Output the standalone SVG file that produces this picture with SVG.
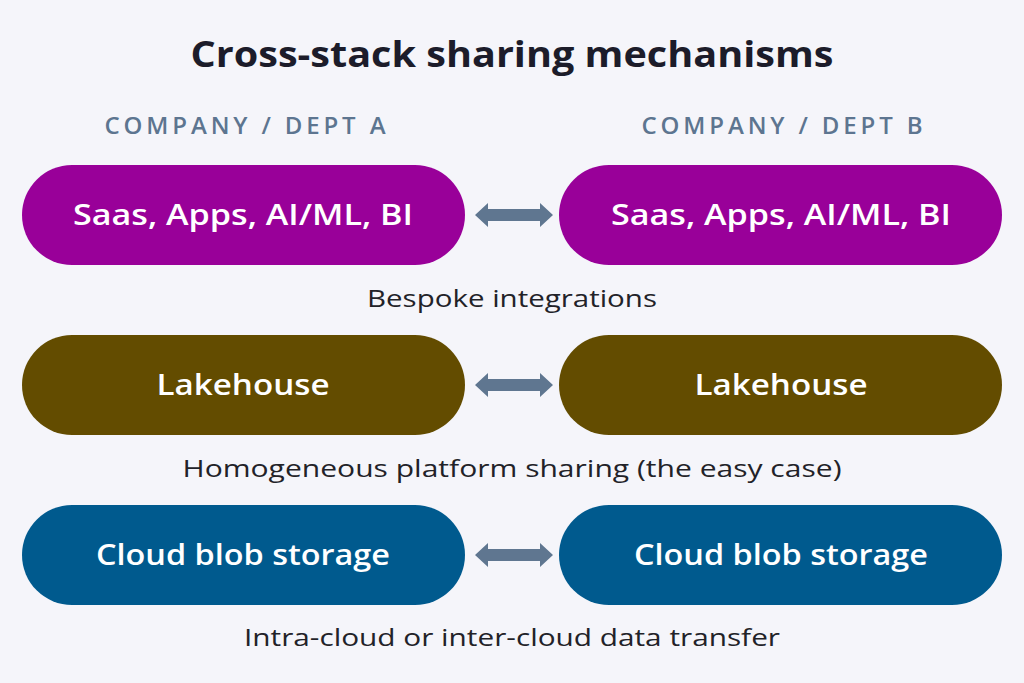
<svg xmlns="http://www.w3.org/2000/svg" width="1024" height="683" viewBox="0 0 1024 683">
<style>
.title{font-family:"Open Sans","Noto Sans",sans-serif;font-weight:700;font-size:35px;fill:#1c1c2a}
.hdr{font-family:"Open Sans","Noto Sans",sans-serif;font-weight:600;font-size:24px;fill:#5d7590}
.lbl{font-family:"Open Sans","Noto Sans",sans-serif;font-weight:600;font-size:29px;fill:#ffffff}
.cap{font-family:"Open Sans","Noto Sans",sans-serif;font-size:24px;fill:#222228}
.purple{fill:#990099}.olive{fill:#634c00}.blue{fill:#005a8e}
.arr{fill:#5f7690}
</style>
<rect width="1024" height="683" fill="#f5f5fa"/>
<text class="title" x="512" y="67" text-anchor="middle" textLength="643" lengthAdjust="spacingAndGlyphs">Cross-stack sharing mechanisms</text>
<text class="hdr" x="245" y="134" text-anchor="middle" textLength="281" lengthAdjust="spacing">COMPANY / DEPT A</text>
<text class="hdr" x="782" y="134" text-anchor="middle" textLength="281" lengthAdjust="spacing">COMPANY / DEPT B</text>
<g id="a1"><rect class="purple" x="22" y="165" width="443" height="100" rx="50"/><text class="lbl" x="243" y="225" text-anchor="middle" textLength="340" lengthAdjust="spacingAndGlyphs">Saas, Apps, AI/ML, BI</text></g>
<g id="b1"><rect class="purple" x="559" y="165" width="443" height="100" rx="50"/><text class="lbl" x="781" y="225" text-anchor="middle" textLength="340" lengthAdjust="spacingAndGlyphs">Saas, Apps, AI/ML, BI</text></g>
<g id="a2"><rect class="olive" x="22" y="335" width="443" height="100" rx="50"/><text class="lbl" x="243" y="395" text-anchor="middle" textLength="173" lengthAdjust="spacingAndGlyphs">Lakehouse</text></g>
<g id="b2"><rect class="olive" x="559" y="335" width="443" height="100" rx="50"/><text class="lbl" x="781" y="395" text-anchor="middle" textLength="173" lengthAdjust="spacingAndGlyphs">Lakehouse</text></g>
<g id="a3"><rect class="blue" x="22" y="505" width="443" height="100" rx="50"/><text class="lbl" x="243" y="565" text-anchor="middle" textLength="294" lengthAdjust="spacingAndGlyphs">Cloud blob storage</text></g>
<g id="b3"><rect class="blue" x="559" y="505" width="443" height="100" rx="50"/><text class="lbl" x="781" y="565" text-anchor="middle" textLength="294" lengthAdjust="spacingAndGlyphs">Cloud blob storage</text></g>
<g id="connectors">
<path class="arr" d="M475 215 L488 203 L488 209 L540 209 L540 203 L553 215 L540 227 L540 221 L488 221 L488 227 Z"/>
<path class="arr" d="M475 385 L488 373 L488 379 L540 379 L540 373 L553 385 L540 397 L540 391 L488 391 L488 397 Z"/>
<path class="arr" d="M475 555 L488 543 L488 549 L540 549 L540 543 L553 555 L540 567 L540 561 L488 561 L488 567 Z"/>
</g>
<text class="cap" x="512" y="307" text-anchor="middle" textLength="290" lengthAdjust="spacingAndGlyphs">Bespoke integrations</text>
<text class="cap" x="512" y="477" text-anchor="middle" textLength="659" lengthAdjust="spacingAndGlyphs">Homogeneous platform sharing (the easy case)</text>
<text class="cap" x="512" y="646" text-anchor="middle" textLength="536" lengthAdjust="spacingAndGlyphs">Intra-cloud or inter-cloud data transfer</text>
</svg>
